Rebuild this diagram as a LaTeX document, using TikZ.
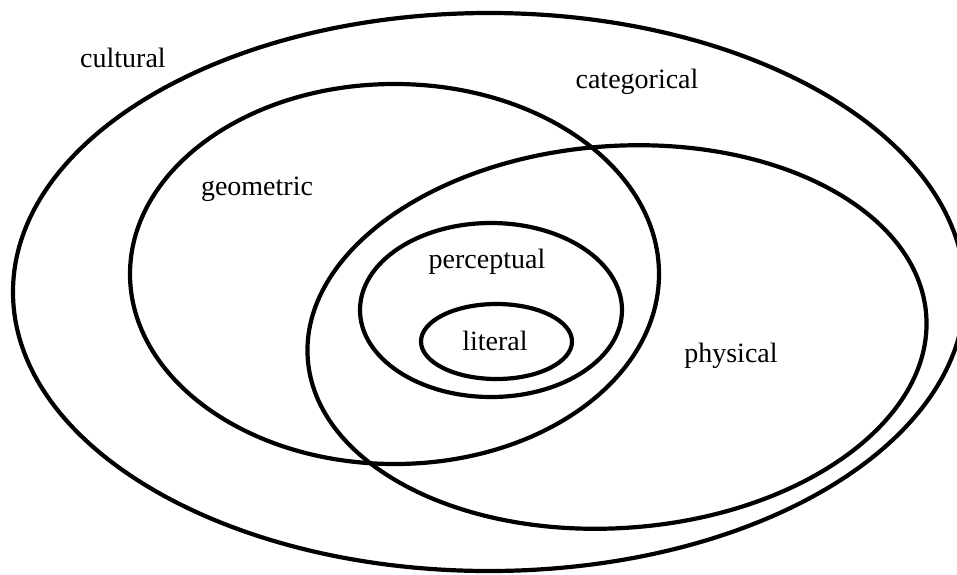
\documentclass[tikz,border=0pt]{standalone}
\usepackage{fontspec}
\setmainfont{Liberation Serif}
\tikzset{
  ring/.style={draw=black, line width=4.2pt},
  lbl/.style={anchor=base, inner sep=0pt, font=\fontsize{28}{32}\selectfont}
}
\begin{document}
\begin{tikzpicture}[x=1pt,y=-1pt]
\useasboundingbox (0,0) rectangle (957,574);
\draw[ring] (489,292) ellipse [x radius=476, y radius=279];
\draw[ring] (394.5,274) ellipse [x radius=264.5, y radius=190];
\draw[ring, rotate around={4:(617,337)}] (617,337) ellipse [x radius=310, y radius=191];
\draw[ring] (491,310) ellipse [x radius=131, y radius=87];
\draw[ring] (496.5,341.5) ellipse [x radius=75.5, y radius=37.5];
\node[lbl] (cultural) at (123,67) {cultural};
\node[lbl] (categorical) at (637,88) {categorical};
\node[lbl] (geometric) at (257,195) {geometric};
\node[lbl] (perceptual) at (487,268) {perceptual};
\node[lbl] (literal) at (495,350) {literal};
\node[lbl] (physical) at (731,362) {physical};
\end{tikzpicture}
\end{document}
